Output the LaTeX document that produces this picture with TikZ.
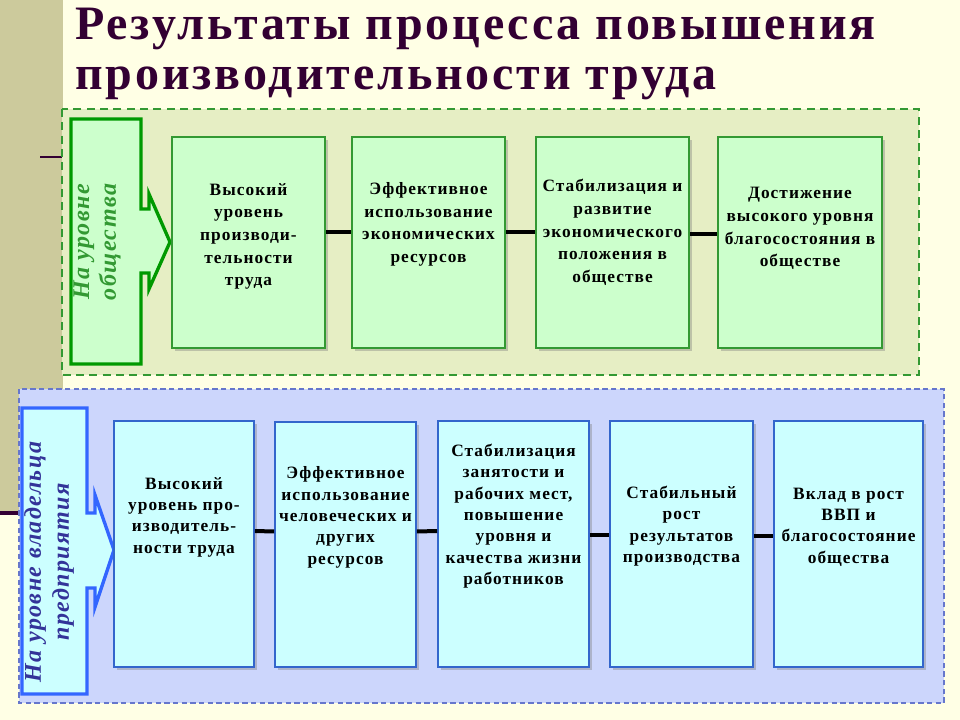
\documentclass[tikz,border=0pt]{standalone}
\usepackage{fontspec}
\setmainfont{Liberation Serif}[LetterSpace=6]
\usetikzlibrary{calc,fit,shadows}

\definecolor{slidebg}{HTML}{FFFFE5}
\definecolor{khaki}{HTML}{CCCA9C}
\definecolor{plum}{HTML}{330033}
\definecolor{olivepanel}{HTML}{E6EEC4}
\definecolor{leafline}{HTML}{339933}
\definecolor{leafdark}{HTML}{009900}
\definecolor{leaffill}{HTML}{CCFFCC}
\definecolor{skypanel}{HTML}{CCD6FC}
\definecolor{skydash}{HTML}{6677CC}
\definecolor{skyline}{HTML}{3366CC}
\definecolor{skybright}{HTML}{3366FF}
\definecolor{skyfill}{HTML}{CCFFFF}
\definecolor{inkblue}{HTML}{333399}

\tikzset{
	headline/.style={anchor=base west, inner sep=0pt, text=plum, font=\bfseries\fontsize{36}{40}\selectfont},
	gbox/.style={draw=leafline, fill=leaffill, line width=1.5pt, inner sep=0pt, drop shadow={shadow xshift=2pt, shadow yshift=-2pt, opacity=0.4}},
	bbox/.style={draw=skyline, fill=skyfill, line width=1.2pt, inner sep=0pt, drop shadow={shadow xshift=2pt, shadow yshift=-2pt, opacity=0.4}},
	boxtext/.style={align=center, inner sep=0pt, font=\bfseries\fontsize{13}{17}\selectfont},
	bluetext/.style={boxtext, font=\bfseries\fontsize{13}{16}\selectfont},
	link/.style={line width=3pt, black},
	levelgreen/.style={rotate=90, align=center, inner sep=0pt, text=leafline, font=\bfseries\itshape\fontsize{18}{20}\selectfont},
	levelblue/.style={rotate=90, align=center, inner sep=0pt, text=inkblue, font=\bfseries\itshape\fontsize{18}{21}\selectfont},
}

\begin{document}
\begin{tikzpicture}[x=0.75pt, y=-0.75pt]
		%%%%% START %%%%%
		
		\useasboundingbox (0,0) rectangle (960,720);
		\fill[slidebg] (0,0) rectangle (960,720);
		\fill[khaki] (0,0) rectangle (63,513);
		\draw[plum, line width=2.5pt] (0,513) -- (63,513);
		\draw[plum, line width=2pt] (40,157) -- (63,157);
		
		\node[headline] (head1) at (75,40) {Результаты процесса повышения};
		\node[headline] (head2) at (75,90) {производительности труда};
		
		% society level
		\draw[fill=olivepanel, draw=leafline, line width=1.5pt, dash pattern=on 6pt off 4pt] (62,109) rectangle (919,375);
		\draw[fill=leaffill, draw=leafdark, line width=2.5pt] (71,119) -- (141,119) -- (141,209) -- (149,209) -- (149,194) -- (170,242) -- (149,289) -- (149,273) -- (141,273) -- (141,364) -- (71,364) -- cycle;
		\node[levelgreen] (society) at (97,242) {На уровне\\общества};
		
		\node[gbox, fit={(172,137) (325,348)}] (g1) {};
		\node[gbox, fit={(352,137) (505,348)}] (g2) {};
		\node[gbox, fit={(536,137) (689,348)}] (g3) {};
		\node[gbox, fit={(718,137) (882,348)}] (g4) {};
		
		\node[boxtext] (g1t) at ($(g1.center)+(0,-6)$) {Высокий\\уровень\\производи-\\тельности\\труда};
		\node[boxtext] (g2t) at ($(g2.center)+(0,-18)$) {Эффективное\\использование\\экономических\\ресурсов};
		\node[boxtext] (g3t) at ($(g3.center)+(0,-10)$) {Стабилизация и\\развитие\\экономического\\положения в\\обществе};
		\node[boxtext] (g4t) at ($(g4.center)+(0,-14)$) {Достижение\\высокого уровня\\благосостояния в\\обществе};
		
		\draw[link] ($(g1.east)+(0,-10)$) -- ($(g2.west)+(0,-10)$);
		\draw[link] ($(g2.east)+(0,-10)$) -- ($(g3.west)+(0,-10)$);
		\draw[link] ($(g3.east)+(0,-8)$) -- ($(g4.west)+(0,-8)$);
		
		% owner level
		\draw[fill=skypanel, draw=skydash, line width=1.2pt, dash pattern=on 4pt off 2.5pt] (19,389) rectangle (944,703);
		\draw[fill=skyfill, draw=skybright, line width=2.5pt] (22,408) -- (87,408) -- (87,513) -- (95,513) -- (95,495) -- (114,550) -- (95,607) -- (95,588) -- (87,588) -- (87,694) -- (22,694) -- cycle;
		\node[levelblue] (owner) at (49,562) {На уровне владельца\\предприятия};
		
		\node[bbox, fit={(114,421) (254,667)}] (b1) {};
		\node[bbox, fit={(275,422) (416,667)}] (b2) {};
		\node[bbox, fit={(438,421) (589,667)}] (b3) {};
		\node[bbox, fit={(610,421) (753,667)}] (b4) {};
		\node[bbox, fit={(774,421) (923,667)}] (b5) {};
		
		\node[bluetext] (b1t) at ($(b1.center)+(0,-27)$) {Высокий\\уровень про-\\изводитель-\\ности труда};
		\node[bluetext] (b2t) at ($(b2.center)+(0,-27)$) {Эффективное\\использование\\человеческих и\\других\\ресурсов};
		\node[bluetext] (b3t) at ($(b3.center)+(0,-28)$) {Стабилизация\\занятости и\\рабочих мест,\\повышение\\уровня и\\качества жизни\\работников};
		\node[bluetext] (b4t) at ($(b4.center)+(0,-18)$) {Стабильный\\рост\\результатов\\производства};
		\node[bluetext] (b5t) at ($(b5.center)+(0,-17)$) {Вклад в рост\\ВВП и\\благосостояние\\общества};
		
		\draw[link] ($(b1.east)+(0,-13)$) -- ($(b2.west)+(0,-13)$);
		\draw[link] ($(b2.east)+(0,-13)$) -- ($(b3.west)+(0,-13)$);
		\draw[link] ($(b3.east)+(0,-9)$) -- ($(b4.west)+(0,-9)$);
		\draw[link] ($(b4.east)+(0,-8)$) -- ($(b5.west)+(0,-8)$);
		
		%%%%% END %%%%%
\end{tikzpicture}
\end{document}
